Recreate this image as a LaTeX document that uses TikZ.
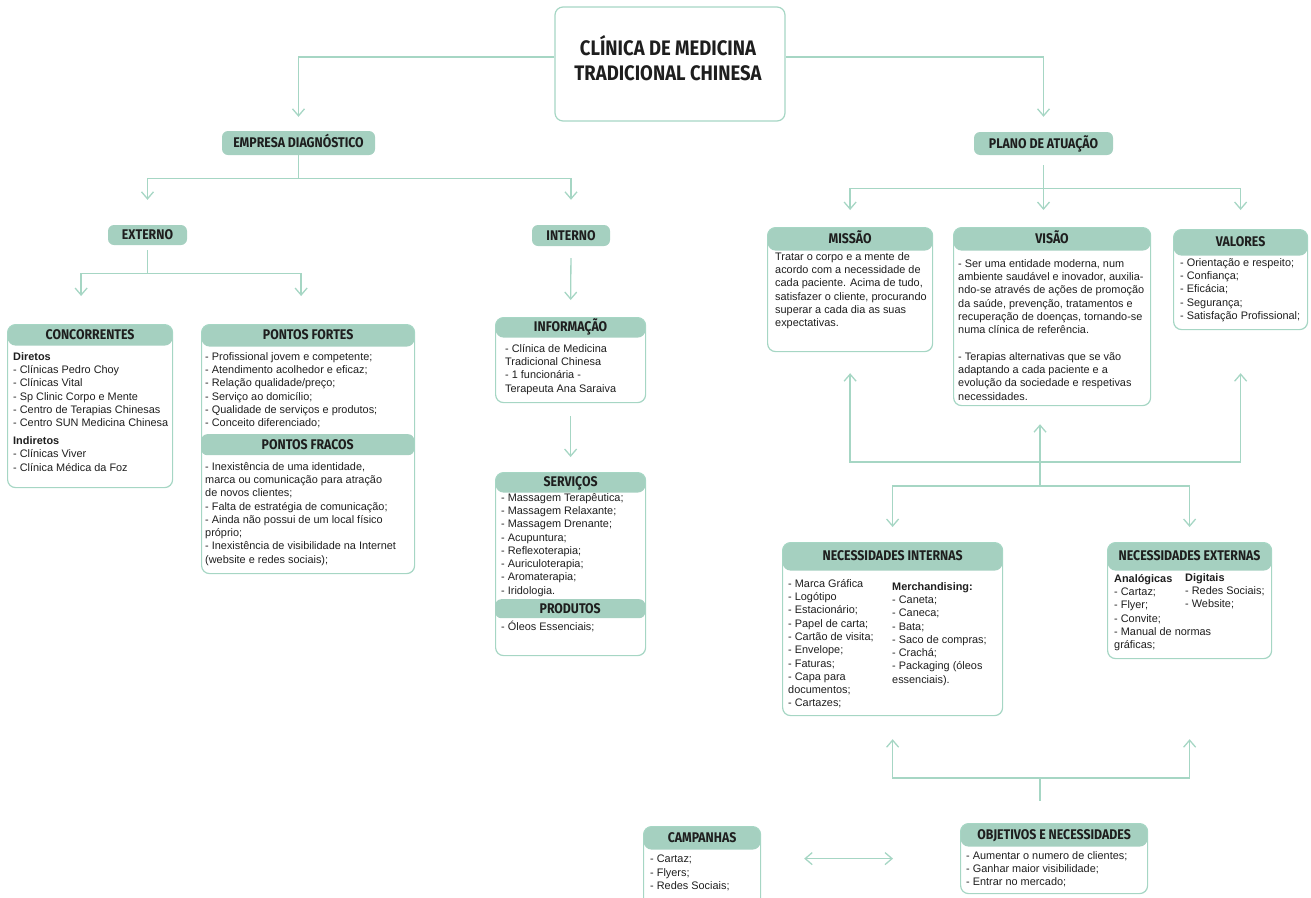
\documentclass[tikz,border=0pt]{standalone}
\usepackage{fontspec}
\setmainfont{Liberation Sans}
\newfontfamily\headfont{Fira Sans}[FakeStretch=0.88]
\usetikzlibrary{arrows.meta,positioning}
\definecolor{verde}{RGB}{165,208,192}
\definecolor{linha}{RGB}{166,214,196}
\definecolor{texto}{RGB}{30,30,30}

\begin{document}
\begin{tikzpicture}[x=1pt,y=-1pt,
  card/.style={draw=linha, line width=1.2pt, rounded corners=8pt, anchor=north west, inner sep=0pt,
    path picture={\fill[verde] (path picture bounding box.north west) rectangle ([yshift=-#1]path picture bounding box.north east);}},
  head/.style={inner sep=0pt, text height=9.5pt, text depth=0pt, text=texto,
    font=\headfont\bfseries\fontsize{14}{16}\selectfont},
  pill/.style={head, fill=verde, rounded corners=6pt},
  body/.style={anchor=north west, inner sep=0pt, align=left, text=texto,
    font=\fontsize{10.9}{13.3}\selectfont},
  conn/.style={draw=linha, line width=1.3pt},
  arr/.style={conn, -{Straight Barb[length=7pt,width=12pt]}},
  arr2/.style={conn, {Straight Barb[length=7pt,width=12pt]}-{Straight Barb[length=7pt,width=12pt]}},
]
  \useasboundingbox (0,0) rectangle (1311,897);

  % caixa principal
  \node[draw=linha, line width=1.2pt, rounded corners=8pt, minimum width=230pt, minimum height=114pt] (clinica) at (670,64) {};
  \node[align=center, text=texto, font=\headfont\bfseries\fontsize{21}{25}\selectfont] (tclinica) at (668,58) {CLÍNICA DE MEDICINA\\TRADICIONAL CHINESA};

  % etiquetas
  \node[pill, minimum width=153pt, minimum height=24pt] (empresa) at (298.5,143) {EMPRESA DIAGNÓSTICO};
  \node[pill, minimum width=79pt, minimum height=20pt] (externo) at (147.5,235) {EXTERNO};
  \node[pill, minimum width=78pt, minimum height=21pt] (interno) at (571,235.5) {INTERNO};
  \node[pill, minimum width=139pt, minimum height=23pt] (plano) at (1043.5,143.5) {PLANO DE ATUAÇÃO};

  % externo
  \node[card=21pt, minimum width=165pt, minimum height=163pt] (conc) at (7,324) {};
  \node[head] (hconc) at ([yshift=-10.5pt]conc.north) {CONCORRENTES};
  \node[body] (tconc) at (13,352) {\textbf{Diretos}\\- Clínicas Pedro Choy\\- Clínicas Vital\\- Sp Clinic Corpo e Mente\\- Centro de Terapias Chinesas\\- Centro SUN Medicina Chinesa\\[4.5pt]\textbf{Indiretos}\\- Clínicas Viver\\- Clínica Médica da Foz};

  \node[card=22pt, minimum width=213pt, minimum height=249pt] (fortes) at (201,324) {};
  \node[head] (hfortes) at ([yshift=-11pt]fortes.north) {PONTOS FORTES};
  \node[body] (tfortes) at (205,352) {- Profissional jovem e competente;\\- Atendimento acolhedor e eficaz;\\- Relação qualidade/preço;\\- Serviço ao domicílio;\\- Qualidade de serviços e produtos;\\- Conceito diferenciado;};
  \node[pill, anchor=north west, minimum width=213pt, minimum height=21pt] (fracos) at (201,434) {PONTOS FRACOS};
  \node[body] (tfracos) at (205,462) {- Inexistência de uma identidade,\\marca ou comunicação para atração\\de novos clientes;\\- Falta de estratégia de comunicação;\\- Ainda não possui de um local físico\\próprio;\\- Inexistência de visibilidade na Internet\\(website e redes sociais);};

  % interno
  \node[card=20pt, minimum width=150pt, minimum height=85pt] (info) at (495,317) {};
  \node[head] (hinfo) at ([yshift=-10pt]info.north) {INFORMAÇÃO};
  \node[body] (tinfo) at (505,344) {- Clínica de Medicina\\Tradicional Chinesa\\- 1 funcionária -\\Terapeuta Ana Saraiva};

  \node[card=20pt, minimum width=150pt, minimum height=183pt] (serv) at (495,472) {};
  \node[head] (hserv) at ([yshift=-10pt]serv.north) {SERVIÇOS};
  \node[body] (tserv) at (501,493) {- Massagem Terapêutica;\\- Massagem Relaxante;\\- Massagem Drenante;\\- Acupuntura;\\- Reflexoterapia;\\- Auriculoterapia;\\- Aromaterapia;\\- Iridologia.};
  \node[pill, anchor=north west, minimum width=150pt, minimum height=19pt] (produtos) at (495,599) {PRODUTOS};
  \node[body] (tprod) at (501,621) {- Óleos Essenciais;};

  % plano de atuacao
  \node[card=23pt, minimum width=165pt, minimum height=124pt] (missao) at (767,227) {};
  \node[head] (hmissao) at ([yshift=-11.5pt]missao.north) {MISSÃO};
  \node[body] (tmissao) at (775,252) {Tratar o corpo e a mente de\\acordo com a necessidade de\\cada paciente. Acima de tudo,\\satisfazer o cliente, procurando\\superar a cada dia as suas\\expectativas.};

  \node[card=23pt, minimum width=197pt, minimum height=178pt] (visao) at (953,227) {};
  \node[head] (hvisao) at ([yshift=-11.5pt]visao.north) {VISÃO};
  \node[body] (tvisao) at (958,259) {- Ser uma entidade moderna, num\\ambiente saudável e inovador, auxilia-\\ndo-se através de ações de promoção\\da saúde, prevenção, tratamentos e\\recuperação de doenças, tornando-se\\numa clínica de referência.\\[13.3pt]- Terapias alternativas que se vão\\adaptando a cada paciente e a\\evolução da sociedade e respetivas\\necessidades.};

  \node[card=26pt, minimum width=134pt, minimum height=100pt] (valores) at (1173,229) {};
  \node[head] (hvalores) at ([yshift=-13pt]valores.north) {VALORES};
  \node[body] (tvalores) at (1180,258) {- Orientação e respeito;\\- Confiança;\\- Eficácia;\\- Segurança;\\- Satisfação Profissional;};

  % necessidades
  \node[card=28pt, minimum width=220pt, minimum height=173pt] (nint) at (782,542) {};
  \node[head] (hnint) at ([yshift=-14pt]nint.north) {NECESSIDADES INTERNAS};
  \node[body] (tnint) at (788,579) {- Marca Gráfica\\- Logótipo\\- Estacionário;\\- Papel de carta;\\- Cartão de visita;\\- Envelope;\\- Faturas;\\- Capa para\\documentos;\\- Cartazes;};
  \node[body] (tmerch) at (892,582) {\textbf{Merchandising:}\\- Caneta;\\- Caneca;\\- Bata;\\- Saco de compras;\\- Crachá;\\- Packaging (óleos\\essenciais).};

  \node[card=28pt, minimum width=164pt, minimum height=116pt] (next) at (1107,542) {};
  \node[head] (hnext) at ([yshift=-14pt]next.north) {NECESSIDADES EXTERNAS};
  \node[body] (tanalog) at (1114,574) {\textbf{Analógicas}\\- Cartaz;\\- Flyer;\\- Convite;\\- Manual de normas\\gráficas;};
  \node[body] (tdigit) at (1185,573) {\textbf{Digitais}\\- Redes Sociais;\\- Website;};

  % objetivos e campanhas
  \node[card=23pt, minimum width=187pt, minimum height=70pt] (obj) at (960,823) {};
  \node[head] (hobj) at ([yshift=-11.5pt]obj.north) {OBJETIVOS E NECESSIDADES};
  \node[body] (tobj) at (966,851) {- Aumentar o numero de clientes;\\- Ganhar maior visibilidade;\\- Entrar no mercado;};

  \node[card=23pt, minimum width=117pt, minimum height=90pt] (camp) at (643,826) {};
  \node[head] (hcamp) at ([yshift=-11.5pt]camp.north) {CAMPANHAS};
  \node[body] (tcamp) at (650,855) {- Cartaz;\\- Flyers;\\- Redes Sociais;};

  % ligacoes
  \draw[arr, shorten >=14pt] ([yshift=7pt]clinica.west) -| (empresa.north);
  \draw[arr, shorten >=15pt] ([yshift=7pt]clinica.east) -| (plano.north);

  \draw[conn] (empresa.south) -- ++(0,23) coordinate (f1);
  \draw[arr, shorten >=25pt] (f1) -| (externo.north);
  \draw[arr, shorten >=25pt] (f1) -| (interno.north);

  \draw[conn, shorten <=5pt] (externo.south) -- ++(0,28) coordinate (f2);
  \draw[arr, shorten >=28pt] (f2) -| ([xshift=-9pt]conc.north);
  \draw[arr, shorten >=28pt] (f2) -| ([xshift=-7pt]fortes.north);

  \draw[arr, shorten <=12pt, shorten >=17pt] (interno.south) -- (info.north);
  \draw[arr, shorten <=13pt, shorten >=15pt] (info.south) -- (serv.north);

  \draw[conn, shorten <=10pt] (plano.south) -- ++(0,33) coordinate (f3);
  \draw[arr, shorten >=17pt] (f3) -| (missao.north);
  \draw[arr, shorten >=17pt] (f3) -- (f3 |- visao.north);
  \draw[arr, shorten >=19pt] (f3) -| (valores.north);

  \coordinate (f4) at (1040,486);
  \coordinate (f5) at (1040,462);
  \draw[arr2, shorten <=21pt, shorten >=43pt] (missao.south) |- (f5) -| (valores.south);
  \draw[arr, shorten >=18pt] (f4) -- (f4 |- visao.south);
  \draw[arr, shorten >=15pt] (f4) -| (nint.north);
  \draw[arr, shorten >=15pt] (f4) -| (next.north);

  \coordinate (f6) at (1040,778);
  \draw[conn] (f6) -- ++(0,23);
  \draw[arr, shorten >=23pt] (f6) -| (nint.south);
  \draw[arr, shorten >=80pt] (f6) -| (next.south);

  \draw[arr2, shorten <=43pt, shorten >=67pt] (obj.west -| camp.east) -- (obj.west);
\end{tikzpicture}
\end{document}
